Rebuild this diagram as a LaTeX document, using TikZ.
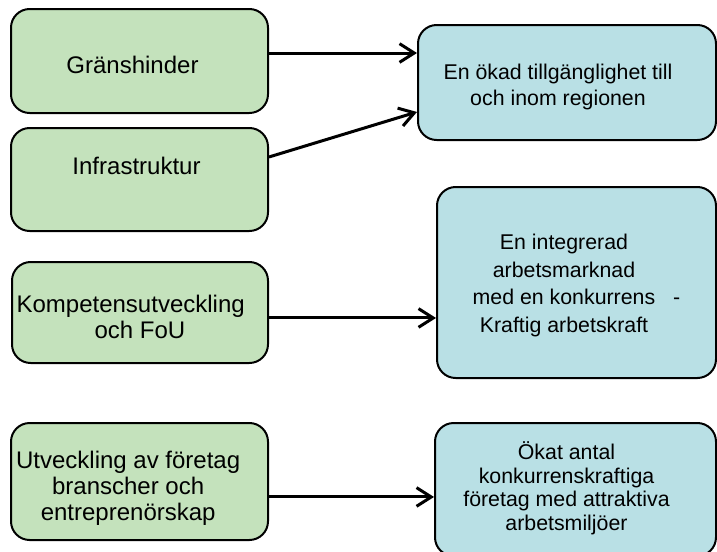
\documentclass[tikz,border=0pt]{standalone}
\usepackage{fontspec}
\setmainfont{Liberation Sans}
\usetikzlibrary{arrows.meta}

\definecolor{boxgreen}{RGB}{196,226,188}
\definecolor{boxblue}{RGB}{185,224,229}
\newcommand{\pad}[1]{\rule{#1}{0pt}}

\begin{document}
\begin{tikzpicture}[x=0.75pt, y=-0.75pt,
    every node/.style={align=center, inner sep=0pt},
    cause/.style={draw, line width=1.5pt, rounded corners=14pt, fill=boxgreen,
        font=\fontsize{18}{19.5}\selectfont},
    effect/.style={draw, line width=1.5pt, rounded corners=14pt, fill=boxblue,
        font=\fontsize{16}{19.5}\selectfont},
    arr/.style={line width=2.25pt, -{Straight Barb[length=11pt, width=14pt, line width=2.25pt]}}]
            \useasboundingbox (0,0) rectangle (717,551);

            \node[cause, minimum width=192.75pt, minimum height=78pt, text height=18pt, text depth=0pt] (g1) at (139.5, 61) {Gränshinder\pad{10.5pt}};
            \node[cause, minimum width=192.75pt, minimum height=77.25pt, text height=0pt, text depth=8.25pt] (g2) at (139.5, 179.5) {Infrastruktur\pad{4.5pt}};
            \node[cause, minimum width=192pt, minimum height=75.75pt, text height=38.25pt, text depth=0pt] (g3) at (140, 312.5) {Kompetensutveckling\pad{14pt}\\och FoU};
            \node[cause, minimum width=192.75pt, minimum height=87.75pt, text height=57.75pt, text depth=0pt] (g4) at (139.5, 481.5) {Utveckling av företag\pad{17pt}\\branscher och\pad{17pt}\\entreprenörskap\pad{17pt}};

            \node[effect, minimum width=223.5pt, minimum height=86.25pt, text height=33.75pt, text depth=0pt] (b1) at (567, 82.5) {En ökad tillgänglighet till\pad{13.5pt}\\och inom regionen\pad{13.5pt}};
            \node[effect, font=\fontsize{16}{20.6}\selectfont, minimum width=209.25pt, minimum height=143.25pt, text height=74.25pt, text depth=0pt] (b2) at (576.5, 282.5) {En integrerad\pad{18.75pt}\\arbetsmarknad\pad{18.75pt}\\med en konkurrens\hspace{13.5pt}-\\Kraftig arbetskraft\pad{18.75pt}};
            \node[effect, font=\fontsize{16}{17.6}\selectfont, minimum width=210.75pt, minimum height=99.75pt, text height=60.75pt, text depth=0pt] (b3) at (575.5, 489.5) {Ökat antal\pad{13.5pt}\\konkurrenskraftiga\pad{13.5pt}\\företag med attraktiva\pad{13.5pt}\\arbetsmiljöer\pad{13.5pt}};

            \draw[arr] ([yshift=6pt]g1.east) -- ([yshift=6pt]g1.east -| b1.west);
            \draw[arr] ([yshift=16.9pt]g2.east) -- ([yshift=-22.1pt]b1.west);
            \draw[arr] ([yshift=-4.1pt]g3.east) -- ([yshift=-4.1pt]g3.east -| b2.west);
            \draw[arr] ([yshift=-11.6pt]g4.east) -- ([yshift=-11.6pt]g4.east -| b3.west);
        \end{tikzpicture}
\end{document}
